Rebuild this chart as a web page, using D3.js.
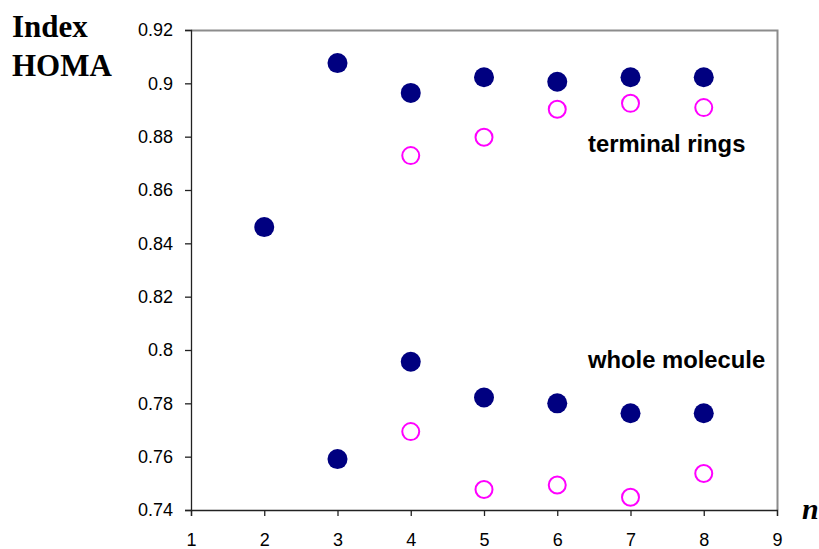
<!DOCTYPE html>
<html>
<head>
<meta charset="utf-8">
<script src="https://cdn.jsdelivr.net/npm/d3@7"></script>
<style>
  body { margin: 0; background: #fff; }
  svg { display: block; }
</style>
</head>
<body>
<svg id="chart" width="819" height="549"></svg>
<script>
// data
var nTerminal = [2, 3, 4, 5, 6, 7, 8];
var terminalFilled = [0.8461, 0.9076, 0.8964, 0.9023, 0.9006, 0.9023, 0.9023];
var nTerminalOpen = [4, 5, 6, 7, 8];
var terminalOpen = [0.8729, 0.8798, 0.8903, 0.8925, 0.8909];
var nWhole = [3, 4, 5, 6, 7, 8];
var wholeFilled = [0.7591, 0.7956, 0.7822, 0.78, 0.7763, 0.7763];
var nWholeOpen = [4, 5, 6, 7, 8];
var wholeOpen = [0.7694, 0.7477, 0.7494, 0.7448, 0.7537];
var xTicks = [1, 2, 3, 4, 5, 6, 7, 8, 9];
var yTicks = [0.74, 0.76, 0.78, 0.8, 0.82, 0.84, 0.86, 0.88, 0.9, 0.92];

var svg = d3.select("#chart");
var m = { left: 191, right: 777, top: 30, bottom: 510 };

var x = d3.scaleLinear().domain([1, 9]).range([m.left, m.right]);
var y = d3.scaleLinear().domain([0.74, 0.92]).range([m.bottom, m.top]);

// frame: top and right in grey
svg.append("path")
  .attr("d", "M" + m.left + "," + (m.top + 0.5) + "H" + (m.right + 0.5) + "V" + m.bottom)
  .attr("fill", "none")
  .attr("stroke", "#8c8c8c")
  .attr("stroke-width", 2);

var yAxis = svg.append("g")
  .attr("transform", "translate(" + m.left + ",0)")
  .call(d3.axisLeft(y).tickValues(yTicks).tickSize(6).tickPadding(12)
    .tickFormat(function (d) { return String(+d.toFixed(2)); }));

var xAxis = svg.append("g")
  .attr("transform", "translate(0," + m.bottom + ")")
  .call(d3.axisBottom(x).tickValues(xTicks).tickSize(6).tickPadding(17)
    .tickFormat(d3.format("d")));

[yAxis, xAxis].forEach(function (ax) {
  ax.select(".domain").attr("stroke", "#222").attr("stroke-width", 1.3);
  ax.selectAll(".tick line").attr("stroke", "#222").attr("stroke-width", 1.3);
  ax.selectAll("text")
    .attr("fill", "#000")
    .style("font-family", "Liberation Sans, Arial, sans-serif")
    .style("font-size", "18px");
});

function filled(xs, ys) {
  svg.append("g").selectAll("circle")
    .data(ys)
    .enter()
    .append("circle")
    .attr("cx", function (d, i) { return x(xs[i]); })
    .attr("cy", function (d) { return y(d); })
    .attr("r", 10)
    .attr("fill", "#000080");
}

function open(xs, ys) {
  svg.append("g").selectAll("circle")
    .data(ys)
    .enter()
    .append("circle")
    .attr("cx", function (d, i) { return x(xs[i]); })
    .attr("cy", function (d) { return y(d); })
    .attr("r", 8.5)
    .attr("fill", "none")
    .attr("stroke", "#ff00ff")
    .attr("stroke-width", 2);
}

filled(nTerminal, terminalFilled);
open(nTerminalOpen, terminalOpen);
filled(nWhole, wholeFilled);
open(nWholeOpen, wholeOpen);

// labels
var serif = "Liberation Serif, Times New Roman, serif";
var sans = "Liberation Sans, Arial, sans-serif";

svg.append("text").attr("x", 12).attr("y", 37).text("Index")
  .style("font-family", serif).style("font-weight", "bold").style("font-size", "31px");
svg.append("text").attr("x", 12).attr("y", 76).text("HOMA")
  .style("font-family", serif).style("font-weight", "bold").style("font-size", "31px");

svg.append("text").attr("x", 802).attr("y", 519).text("n")
  .style("font-family", serif).style("font-weight", "bold").style("font-style", "italic")
  .style("font-size", "30px");

svg.append("text").attr("x", 588).attr("y", 152).text("terminal rings")
  .style("font-family", sans).style("font-weight", "bold").style("font-size", "23.8px");
svg.append("text").attr("x", 588).attr("y", 368).text("whole molecule")
  .style("font-family", sans).style("font-weight", "bold").style("font-size", "23.8px");
</script>
</body>
</html>
